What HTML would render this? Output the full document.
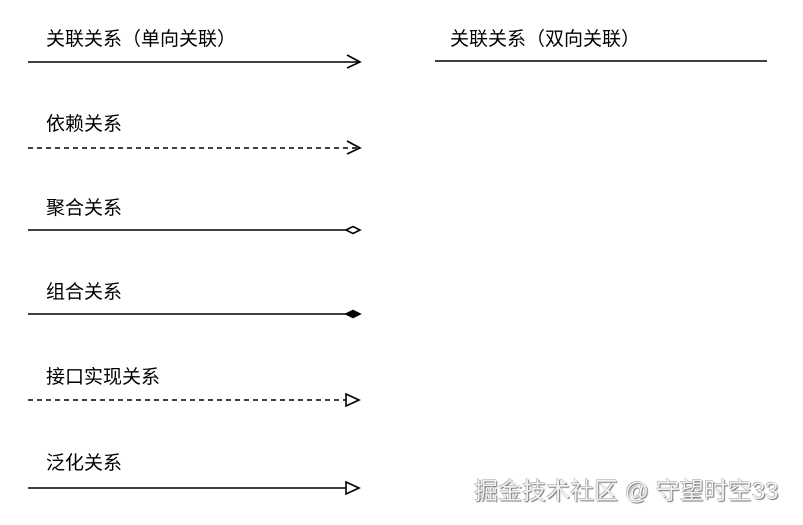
<!DOCTYPE html>
<html><head><meta charset="utf-8"><style>
html,body{margin:0;padding:0;background:#fff;width:803px;height:525px;overflow:hidden;position:relative}
.t{position:absolute;font-family:"Liberation Sans","Noto Sans CJK SC",sans-serif;font-size:19px;color:#000;line-height:1;white-space:nowrap}
.wm{position:absolute;left:474px;top:480px;font-family:"Liberation Sans","Noto Sans CJK SC",sans-serif;font-size:24px;color:#f2f2f2;text-shadow:1px 1px 1px #777,-0.5px -0.5px 0 #999;white-space:nowrap;line-height:1}
</style></head><body>
<svg width="803" height="525" style="position:absolute;left:0;top:0">
<g stroke="#000" stroke-width="1.6" fill="none">
<line x1="28" y1="62" x2="359" y2="62"/>
<polyline points="347,55 360,62 347,68"/>
<line x1="435" y1="61" x2="767" y2="61"/>
<line x1="28" y1="148" x2="358" y2="148" stroke-dasharray="5,4"/>
<polyline points="347,141 360,148 347,154"/>
<line x1="28" y1="230" x2="346" y2="230"/>
<polygon points="346,230 353,226.5 360,230 353,233.5" fill="#fff"/>
<line x1="28" y1="314" x2="346" y2="314"/>
<polygon points="346,314 353,310.5 360,314 353,317.5" fill="#000"/>
<line x1="28" y1="400" x2="346" y2="400" stroke-dasharray="5,4"/>
<polygon points="346,394 359,400 346,406" fill="#fff"/>
<line x1="28" y1="488" x2="346" y2="488"/>
<polygon points="346,482 359,488 346,494" fill="#fff"/>
</g></svg>
<div class="t" style="left:46px;top:30px">关联关系（单向关联）</div>
<div class="t" style="left:450px;top:30px">关联关系（双向关联）</div>
<div class="t" style="left:46px;top:115px">依赖关系</div>
<div class="t" style="left:46px;top:199px">聚合关系</div>
<div class="t" style="left:46px;top:283px">组合关系</div>
<div class="t" style="left:46px;top:368px">接口实现关系</div>
<div class="t" style="left:46px;top:454px">泛化关系</div>
<div class="wm">掘金技术社区 @ 守望时空33</div>
</body></html>
